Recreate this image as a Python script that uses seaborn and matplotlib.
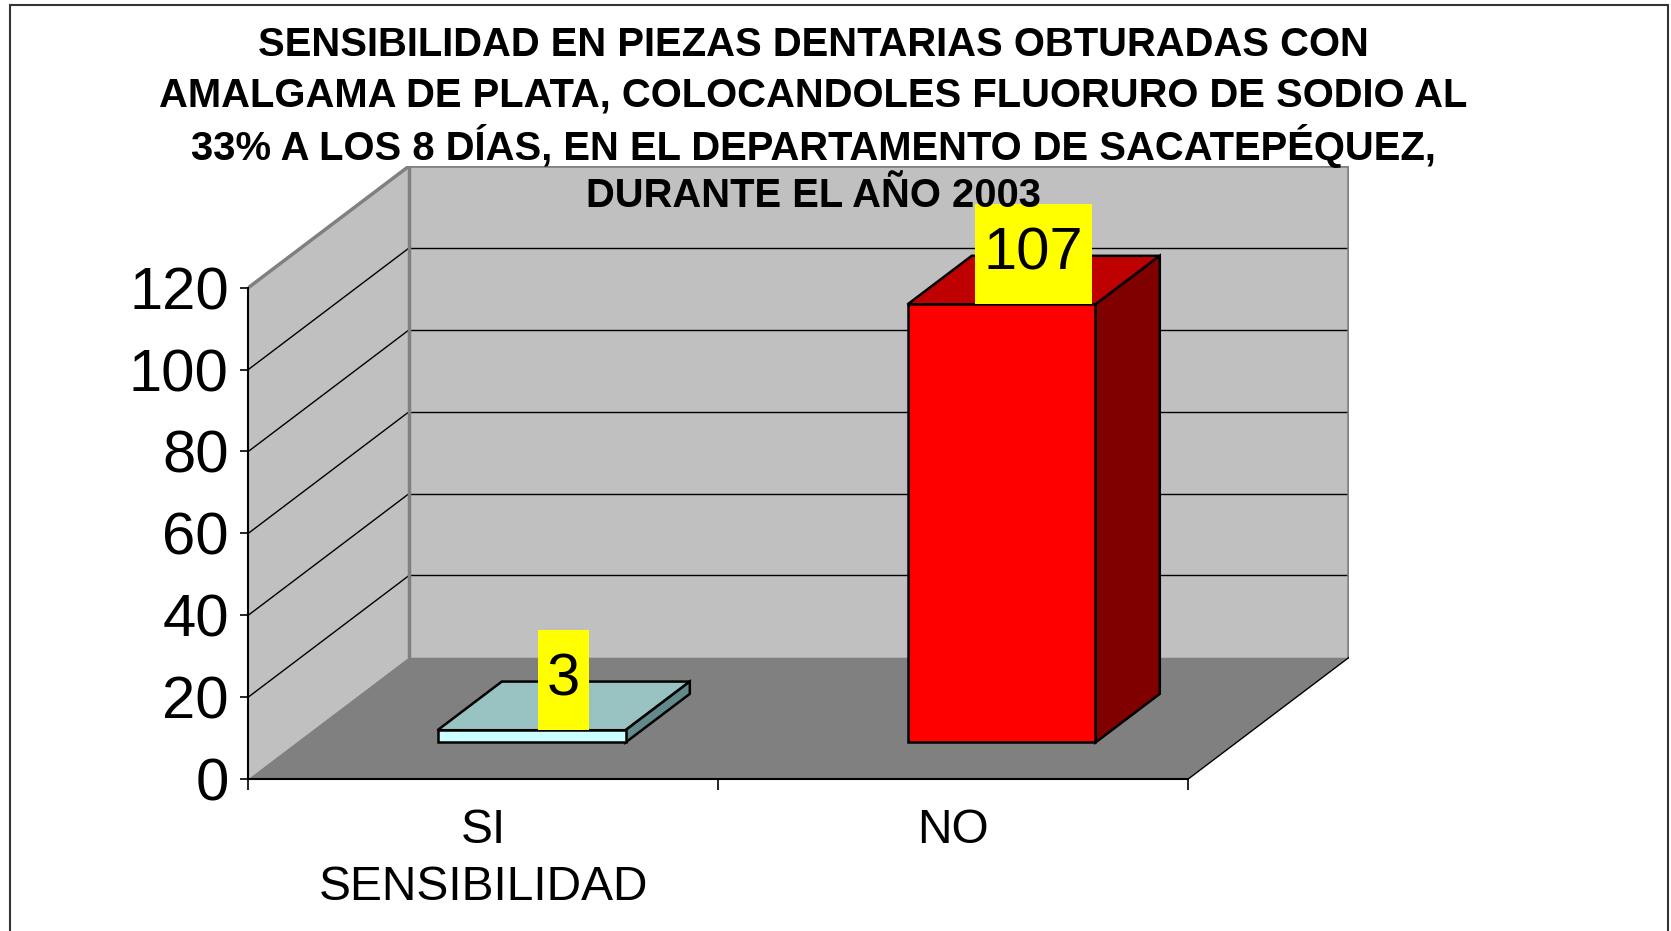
import matplotlib
matplotlib.use("Agg")
import matplotlib.pyplot as plt
import seaborn as sns
from matplotlib.patches import Polygon
from matplotlib.lines import Line2D
from matplotlib.path import Path
from matplotlib.transforms import Affine2D

# datos del grafico
categorias = ["SI\nSENSIBILIDAD", "NO"]
valores = [3, 107]
marcas_y = [0, 20, 40, 60, 80, 100, 120]
titulo = [
    "SENSIBILIDAD EN PIEZAS DENTARIAS OBTURADAS CON",
    "AMALGAMA DE PLATA, COLOCANDOLES FLUORURO DE SODIO AL",
    "33% A LOS 8 DÍAS, EN EL DEPARTAMENTO DE SACATEPÉQUEZ,",
    "DURANTE EL AÑO 2003",
]

# colores de las caras (frente, arriba, lado)
color_frente = ["#CCFFFF", "#FF0000"]
color_arriba = ["#99C2C2", "#BF0000"]
color_lado = ["#628A8A", "#800000"]

sns.set_style("white")
plt.rcParams["font.family"] = ["Liberation Sans", "DejaVu Sans"]
plt.rcParams["text.color"] = "black"
plt.rcParams["xtick.color"] = "black"
plt.rcParams["ytick.color"] = "black"

# profundidad del efecto 3D (en unidades de datos)
DX, DY = 0.342, 29.7
F0, F1 = 0.3, 0.7
ymax = marcas_y[-1]


def caja_etiqueta(x0, y0, width, height, mutation_size):
    px = 0.15 * mutation_size
    py = 0.38 * mutation_size
    x0 -= px
    y0 -= py
    x1 = x0 + width + 2 * px
    y1 = y0 + height + 2 * py
    return Path([(x0, y0), (x1, y0), (x1, y1), (x0, y1), (x0, y0)], closed=True)


fig = plt.figure(figsize=(16.71, 9.31), dpi=100)
ax = fig.add_axes([0.1486, 0.1633, 0.6587, 0.6583])
ax.patch.set_alpha(0)

sns.barplot(x=categorias, y=valores, hue=categorias, palette=color_frente,
            saturation=1, width=0.4, legend=False, edgecolor="black",
            linewidth=1.8, ax=ax, zorder=4)
barras = list(ax.patches)

x_izq, x_der = -0.5, len(categorias) - 0.5
ax.set_xlim(x_izq, x_der + DX)
ax.set_ylim(0, ymax + DY)

gris_borde = "#808080"
# pared lateral
ax.add_patch(Polygon([(x_izq, 0), (x_izq + DX, DY), (x_izq + DX, ymax + DY), (x_izq, ymax)],
                     closed=True, facecolor="#C0C0C0", edgecolor="none", zorder=0.1))
# pared del fondo
ax.add_patch(Polygon([(x_izq + DX, DY), (x_der + DX, DY), (x_der + DX, ymax + DY), (x_izq + DX, ymax + DY)],
                     closed=True, facecolor="#C0C0C0", edgecolor="none", zorder=0.1))
# piso
ax.add_patch(Polygon([(x_izq, 0), (x_der, 0), (x_der + DX, DY), (x_izq + DX, DY)],
                     closed=True, facecolor="#808080", edgecolor="none", zorder=0.2))

# lineas de division
for v in marcas_y[1:-1]:
    ax.plot([x_izq, x_izq + DX], [v, v + DY], color="black", lw=1, zorder=0.5)
    ax.plot([x_izq + DX, x_der + DX], [v + DY, v + DY], color="black", lw=1, zorder=0.5)
ax.plot([x_izq, x_izq + DX, x_der + DX, x_der + DX], [ymax, ymax + DY, ymax + DY, DY],
        color=gris_borde, lw=2.5, zorder=0.6)
ax.plot([x_izq + DX, x_izq + DX], [DY, ymax + DY], color=gris_borde, lw=2.5, zorder=0.6)
ax.plot([x_der, x_der + DX], [0, DY], color="black", lw=1, zorder=0.6)

# barras en 3D
desplazar = Affine2D().translate(F0 * DX, F0 * DY)
for i, barra in enumerate(barras):
    barra.set_transform(desplazar + ax.transData)
    x0, w, h = barra.get_x(), barra.get_width(), barra.get_height()
    ax.add_patch(Polygon([(x0 + F0 * DX, h + F0 * DY), (x0 + w + F0 * DX, h + F0 * DY),
                          (x0 + w + F1 * DX, h + F1 * DY), (x0 + F1 * DX, h + F1 * DY)],
                         closed=True, facecolor=color_arriba[i], edgecolor="black",
                         lw=1.8, zorder=3.5))
    ax.add_patch(Polygon([(x0 + w + F0 * DX, F0 * DY), (x0 + w + F1 * DX, F1 * DY),
                          (x0 + w + F1 * DX, h + F1 * DY), (x0 + w + F0 * DX, h + F0 * DY)],
                         closed=True, facecolor=color_lado[i], edgecolor="black",
                         lw=1.8, zorder=3.5))
    ax.annotate(f"{valores[i]}", xy=(x0 + w / 2 + 0.5 * DX, h + F0 * DY),
                xytext=(0, 0.38 * 43), textcoords="offset points",
                ha="center", va="bottom", fontsize=43, zorder=6,
                bbox=dict(boxstyle=caja_etiqueta, facecolor="#FFFF00", edgecolor="none"))

# ejes
for lado in ["top", "right"]:
    ax.spines[lado].set_visible(False)
ax.spines["left"].set_bounds(0, ymax)
ax.spines["bottom"].set_bounds(x_izq, x_der)
for lado in ["left", "bottom"]:
    ax.spines[lado].set_color("black")
    ax.spines[lado].set_linewidth(1.5)
    ax.spines[lado].set_zorder(1)
ax.set_yticks(marcas_y)
ax.tick_params(axis="y", labelsize=43, length=6, width=1.2, color="black", pad=8, left=True)
ax.set_xticks(range(len(categorias)))
ax.set_xticklabels(categorias, linespacing=1.35)
ax.set_xticks([x_izq + k for k in range(len(categorias) + 1)], minor=True)
ax.tick_params(axis="x", which="major", labelsize=34.5, length=0, pad=21)
ax.tick_params(axis="x", which="minor", length=8, width=1.2, color="black", bottom=True)
ax.set_xlabel("")
ax.set_ylabel("")

# titulo
for k, linea in enumerate(titulo):
    fig.text(0.4866, 1 - (45 + 50.4 * k) / 931, linea, ha="center", va="center",
             fontsize=28.8, fontweight="bold")

# marco
for xs, ys in [([10 / 1671, 10 / 1671], [0, 1 - 5 / 931]),
               ([10 / 1671, 1668 / 1671], [1 - 5 / 931, 1 - 5 / 931]),
               ([1668 / 1671, 1668 / 1671], [0, 1 - 5 / 931])]:
    fig.add_artist(Line2D(xs, ys, color="#333333", lw=1.5))

fig.savefig("out.png", dpi=100)
